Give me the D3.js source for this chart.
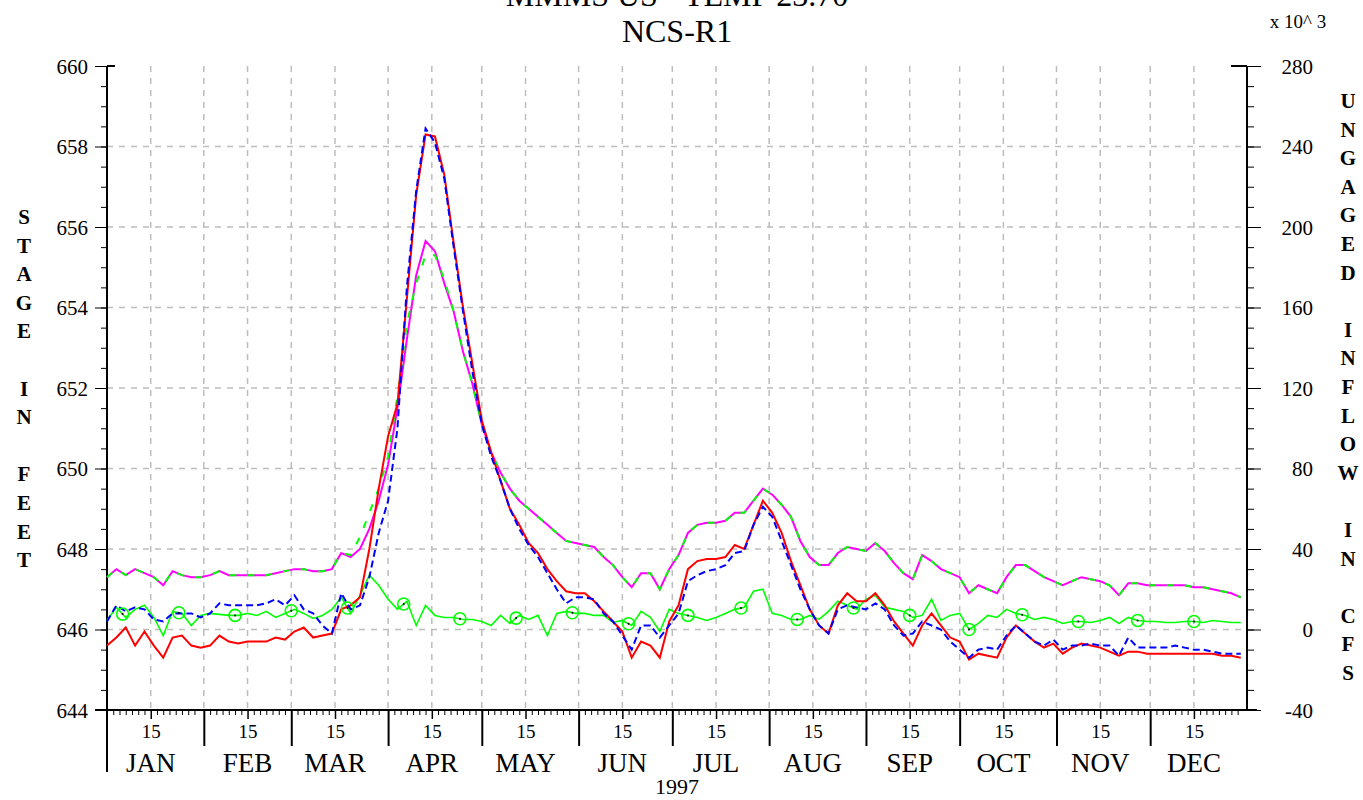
<!DOCTYPE html>
<html>
  <head>
    <meta charset="utf-8">
    <script src="https://d3js.org/d3.v7.min.js"></script>
    <style>
      body { margin: 0; background: #fff; }
      svg text { font-family: "Liberation Serif", "DejaVu Serif", serif; fill: #000; }
    </style>
  </head>
  <body>
    <div id="chart"></div>

    <script>
      // day-of-year sample points (every 3 days), 1997
      const days = d3.range(0, 364, 3);

      // stage in feet, red solid
      const redStage = [
        645.6, 645.8, 646.05, 645.6, 645.95, 645.6, 645.3, 645.8, 645.85, 645.6,
        645.55, 645.6, 645.85, 645.7, 645.65, 645.7, 645.7, 645.7, 645.8, 645.75,
        645.95, 646.05, 645.8, 645.85, 645.9, 646.5, 646.6, 646.8, 648.0, 649.5,
        650.8, 651.6, 654.2, 656.8, 658.3, 658.25, 657.3, 655.6, 654.0, 652.6,
        651.2, 650.4, 649.7, 649.0, 648.6, 648.15, 647.9, 647.5, 647.2, 646.95,
        646.9, 646.9, 646.7, 646.45, 646.2, 645.95, 645.3, 645.7, 645.6, 645.3,
        646.2, 646.6, 647.5, 647.7, 647.75, 647.75, 647.8, 648.1, 648.0, 648.6,
        649.2, 648.9, 648.4, 647.7, 647.1, 646.5, 646.1, 645.9, 646.6, 646.9,
        646.7, 646.7, 646.9, 646.6, 646.2, 645.9, 645.6, 646.1, 646.4, 646.1,
        645.8, 645.7, 645.25, 645.4, 645.35, 645.3, 645.8, 646.1, 645.9, 645.7,
        645.55, 645.65, 645.4, 645.55, 645.65, 645.6, 645.55, 645.45, 645.35, 645.45,
        645.45, 645.4, 645.4, 645.4, 645.4, 645.4, 645.4, 645.4, 645.4, 645.35,
        645.35, 645.3
      ];

      // stage in feet, blue dashed
      const blueStage = [
        646.2, 646.6, 646.45, 646.55, 646.5, 646.25, 646.2, 646.4, 646.4, 646.4,
        646.3, 646.4, 646.65, 646.6, 646.6, 646.6, 646.6, 646.65, 646.75, 646.6,
        646.85, 646.5, 646.4, 646.1, 645.9, 646.9, 646.5, 646.6, 647.3, 648.4,
        649.2, 651.0, 654.5, 656.9, 658.45, 658.1, 657.2, 655.5, 653.9, 652.4,
        651.1, 650.3, 649.7, 649.0, 648.5, 648.1, 647.8, 647.4, 647.0, 646.65,
        646.8, 646.8, 646.75, 646.4, 646.2, 645.85, 645.5, 646.1, 646.1, 645.8,
        646.1, 646.4, 647.2, 647.35, 647.45, 647.5, 647.6, 647.9, 647.95, 648.6,
        649.05, 648.8, 648.2, 647.6, 647.0, 646.5, 646.1, 645.9, 646.5, 646.6,
        646.55, 646.5, 646.65, 646.5, 646.1, 645.85, 645.9, 646.2, 646.1, 646.0,
        645.7, 645.5, 645.3, 645.5, 645.55, 645.5, 645.85, 646.1, 645.9, 645.7,
        645.6, 645.75, 645.5, 645.6, 645.6, 645.65, 645.6, 645.6, 645.35, 645.8,
        645.55, 645.55, 645.55, 645.55, 645.6, 645.55, 645.5, 645.5, 645.45, 645.4,
        645.4, 645.4
      ];

      // stage in feet, magenta solid (upper)
      const magentaStage = [
        647.3, 647.5, 647.35, 647.5, 647.4, 647.3, 647.1, 647.45, 647.35, 647.3,
        647.3, 647.35, 647.45, 647.35, 647.35, 647.35, 647.35, 647.35, 647.4, 647.45,
        647.5, 647.5, 647.45, 647.45, 647.5, 647.9, 647.8, 648.0, 648.5, 649.2,
        650.1, 651.5, 653.2, 654.8, 655.65, 655.4, 654.6, 653.9, 652.9, 652.1,
        651.1, 650.4, 649.9, 649.5, 649.2, 649.0, 648.8, 648.6, 648.4, 648.2,
        648.15, 648.1, 648.05, 647.8, 647.6, 647.3, 647.05, 647.4, 647.4, 647.0,
        647.5, 647.85, 648.4, 648.6, 648.65, 648.65, 648.7, 648.9, 648.9, 649.2,
        649.5, 649.35, 649.1, 648.8, 648.2, 647.8, 647.6, 647.6, 647.9, 648.05,
        648.0, 647.95, 648.15, 647.95, 647.65, 647.4, 647.25, 647.85, 647.7, 647.5,
        647.4, 647.3, 646.9, 647.1, 647.0, 646.9, 647.3, 647.6, 647.6, 647.45,
        647.3, 647.2, 647.1, 647.2, 647.3, 647.25, 647.2, 647.1, 646.85, 647.15,
        647.15, 647.1, 647.1, 647.1, 647.1, 647.1, 647.05, 647.05, 647.0, 646.95,
        646.9, 646.8
      ];

      // stage in feet, green dashed (upper, overlays magenta)
      const greenStage = [
        647.3, 647.5, 647.35, 647.5, 647.4, 647.3, 647.1, 647.45, 647.35, 647.3,
        647.3, 647.35, 647.45, 647.35, 647.35, 647.35, 647.35, 647.35, 647.4, 647.45,
        647.5, 647.5, 647.45, 647.45, 647.5, 647.9, 647.85, 648.3, 648.9, 649.5,
        650.3, 651.8, 653.6, 654.6, 655.3, 655.3, 654.7, 653.9, 652.9, 652.1,
        651.1, 650.4, 649.9, 649.5, 649.2, 649.0, 648.8, 648.6, 648.4, 648.2,
        648.15, 648.1, 648.05, 647.8, 647.6, 647.3, 647.05, 647.4, 647.4, 647.0,
        647.5, 647.85, 648.4, 648.6, 648.65, 648.65, 648.7, 648.9, 648.9, 649.2,
        649.5, 649.35, 649.1, 648.8, 648.2, 647.8, 647.6, 647.6, 647.9, 648.05,
        648.0, 647.95, 648.15, 647.95, 647.65, 647.4, 647.25, 647.85, 647.7, 647.5,
        647.4, 647.3, 646.9, 647.1, 647.0, 646.9, 647.3, 647.6, 647.6, 647.45,
        647.3, 647.2, 647.1, 647.2, 647.3, 647.25, 647.2, 647.1, 646.85, 647.15,
        647.15, 647.1, 647.1, 647.1, 647.1, 647.1, 647.05, 647.05, 647.0, 646.95,
        646.9, 646.8
      ];

      // ungaged inflow, thousand cfs (right axis)
      const inflow = [
        4.5, 11, 6, 10, 12, 6, -3, 9, 8, 2,
        7, 8, 7.5, 7, 7, 8, 7, 9, 6, 8,
        10, 8, 5.5, 7, 10, 16, 8, 17, 27, 22,
        15, 10, 14, 2, 12, 7, 6, 6, 5, 5,
        4, 2, 7, 3, 7, 5, 7, -3, 8, 9,
        8, 8, 7, 7, 3.5, 4.5, 2, 9, 6, -1,
        10, 8, 7, 6, 4.5, 6, 8, 10, 11, 19,
        20, 8, 7, 5, 5, 7, 5, 9, 14, 12,
        10, 15, 17, 11, 10, 9, 6, 7, 15, 4.5,
        7, 8, 0, 3, 7, 6, 10, 8, 7, 5,
        6, 5, 3, 4, 4, 3.5, 4.5, 6, 3, 6,
        4.5, 4, 4, 3.5, 3.5, 4, 4, 3.5, 4.5, 4,
        3.5, 3.5
      ];

      // days carrying a circle marker on the inflow line
      const markerDays = [5, 23, 41, 59, 77, 95, 113, 131, 149, 167, 186, 203, 221, 239, 257, 276, 293, 311, 330, 348];

      const monthNames = ["JAN", "FEB", "MAR", "APR", "MAY", "JUN", "JUL", "AUG", "SEP", "OCT", "NOV", "DEC"];
      const stageTicks = [644, 646, 648, 650, 652, 654, 656, 658, 660];
      const flowTicks = [-40, 0, 40, 80, 120, 160, 200, 240, 280];

      const width = 1363;
      const height = 800;
      const margin = { top: 66, right: 116, bottom: 90, left: 107 };
      const x0 = margin.left, x1 = width - margin.right;
      const y0 = height - margin.bottom, y1 = margin.top;

      const start = new Date(1997, 0, 1);
      const dayDate = d => d3.timeDay.offset(start, d);

      const x = d3.scaleTime().domain([start, new Date(1998, 0, 1)]).range([x0, x1]);
      const yL = d3.scaleLinear().domain([644, 660]).range([y0, y1]);
      const yR = d3.scaleLinear().domain([-40, 280]).range([y0, y1]);

      const svg = d3.select("#chart").append("svg")
        .attr("width", width).attr("height", height);

      // grid
      const grid = svg.append("g").attr("stroke", "#bdbdbd").attr("stroke-width", 1.5)
        .attr("stroke-dasharray", "6,6");
      const gridDates = [];
      for (let m = 0; m < 12; m++) {
        if (m > 0) gridDates.push(new Date(1997, m, 1));
        gridDates.push(new Date(1997, m, 15));
      }
      grid.selectAll(".vg").data(gridDates).enter().append("line")
        .attr("x1", d => x(d)).attr("x2", d => x(d))
        .attr("y1", y1).attr("y2", y0);
      grid.selectAll(".hg").data(stageTicks.filter(v => v > 644 && v < 660)).enter().append("line")
        .attr("x1", x0).attr("x2", x1)
        .attr("y1", d => yL(d)).attr("y2", d => yL(d));

      // left axis
      const leftMinor = d3.range(644, 660.01, 0.5);
      svg.append("g").attr("transform", `translate(${x0},0)`)
        .call(d3.axisLeft(yL).tickValues(leftMinor).tickSize(6).tickFormat("").tickSizeOuter(0))
        .call(g => g.select(".domain").remove());
      const leftAx = svg.append("g").attr("transform", `translate(${x0},0)`)
        .call(d3.axisLeft(yL).tickValues(stageTicks).tickSize(12).tickPadding(7).tickFormat(d => String(d)).tickSizeOuter(0));
      leftAx.select(".domain").remove();
      leftAx.selectAll("text").style("font-size", "21px").attr("dy", "0.34em");

      // right axis
      const rightMinor = d3.range(-40, 280.01, 10);
      svg.append("g").attr("transform", `translate(${x1},0)`)
        .call(d3.axisRight(yR).tickValues(rightMinor).tickSize(7).tickFormat("").tickSizeOuter(0))
        .call(g => g.select(".domain").remove());
      const rightAx = svg.append("g").attr("transform", `translate(${x1},0)`)
        .call(d3.axisRight(yR).tickValues(flowTicks).tickSize(14).tickFormat(d => String(d)).tickSizeOuter(0));
      rightAx.select(".domain").remove();
      rightAx.selectAll("text").style("font-size", "21px").attr("text-anchor", "end")
        .attr("x", 66).attr("dy", "0.34em");

      // frame lines
      const frame = svg.append("g").attr("stroke", "#000").attr("stroke-width", 2);
      frame.append("line").attr("x1", x0).attr("x2", x0).attr("y1", y1).attr("y2", 772);
      frame.append("line").attr("x1", x1).attr("x2", x1).attr("y1", y1).attr("y2", y0);
      frame.append("line").attr("x1", x0 - 12).attr("x2", x1 + 10).attr("y1", y0).attr("y2", y0);
      frame.append("line").attr("x1", x0).attr("x2", x0 + 8).attr("y1", y1).attr("y2", y1);
      frame.append("line").attr("x1", x1 - 16).attr("x2", x1).attr("y1", y1).attr("y2", y1);

      // bottom axis
      const minorDates = [], midDates = [], monthDates = [];
      for (let m = 0; m < 12; m++) {
        [3, 5, 7, 9, 11, 13, 17, 19, 21, 23, 25, 27, 29].forEach(dd => {
          const dt = new Date(1997, m, dd);
          if (dt.getMonth() === m) minorDates.push(dt);
        });
        midDates.push(new Date(1997, m, 15));
        if (m > 0) monthDates.push(new Date(1997, m, 1));
      }
      svg.append("g").attr("transform", `translate(0,${y0})`)
        .call(d3.axisBottom(x).tickValues(minorDates).tickSize(5).tickFormat("").tickSizeOuter(0))
        .call(g => g.select(".domain").remove());
      const midAx = svg.append("g").attr("transform", `translate(0,${y0})`)
        .call(d3.axisBottom(x).tickValues(midDates).tickSize(9).tickPadding(6).tickFormat(() => "15").tickSizeOuter(0));
      midAx.select(".domain").remove();
      midAx.selectAll("text").style("font-size", "19px");
      midAx.selectAll("line").attr("stroke-width", 1.5);
      const monAx = svg.append("g").attr("transform", `translate(0,${y0})`)
        .call(d3.axisBottom(x).tickValues(monthDates).tickSize(36).tickFormat("").tickSizeOuter(0));
      monAx.select(".domain").remove();
      monAx.selectAll("line").attr("stroke-width", 2);

      svg.append("g").selectAll("text").data(midDates).enter().append("text")
        .attr("x", d => x(d)).attr("y", 772)
        .attr("text-anchor", "middle").style("font-size", "27px")
        .text((d, i) => monthNames[i]);
      svg.append("text").attr("x", 677).attr("y", 794).attr("text-anchor", "middle")
        .style("font-size", "22px").text("1997");

      // titles
      svg.append("text").attr("x", 677).attr("y", 6).attr("text-anchor", "middle")
        .style("font-size", "32px").text("MMMS US - TEMP 23.70");
      svg.append("text").attr("x", 677).attr("y", 42).attr("text-anchor", "middle")
        .style("font-size", "32px").text("NCS-R1");
      svg.append("text").attr("x", 1298).attr("y", 28).attr("text-anchor", "middle")
        .style("font-size", "19px").text("x 10^ 3");

      "STAGE IN FEET".split("").forEach((c, i) => {
        if (c === " ") return;
        svg.append("text").attr("x", 24).attr("y", 224 + i * 28.6)
          .attr("text-anchor", "middle").style("font-size", "21px").style("font-weight", "bold").text(c);
      });
      "UNGAGED INFLOW IN CFS".split("").forEach((c, i) => {
        if (c === " ") return;
        svg.append("text").attr("x", 1348).attr("y", 108 + i * 28.6)
          .attr("text-anchor", "middle").style("font-size", "21px").style("font-weight", "bold").text(c);
      });

      // series
      const stageLine = arr => d3.line().x((d, i) => x(dayDate(days[i]))).y((d, i) => yL(arr[i]))(arr);
      const plot = svg.append("g").attr("fill", "none");

      plot.append("path").attr("d", stageLine(magentaStage))
        .attr("stroke", "#ff00ff").attr("stroke-width", 2);
      plot.append("path").attr("d", stageLine(greenStage))
        .attr("stroke", "#00ff00").attr("stroke-width", 2).attr("stroke-dasharray", "7,11");

      const flowLine = d3.line().x((d, i) => x(dayDate(days[i]))).y(d => yR(d));
      plot.append("path").attr("d", flowLine(inflow))
        .attr("stroke", "#00ff00").attr("stroke-width", 1.6);

      plot.append("path").attr("d", stageLine(redStage))
        .attr("stroke", "#ff0000").attr("stroke-width", 2);
      plot.append("path").attr("d", stageLine(blueStage))
        .attr("stroke", "#0000ff").attr("stroke-width", 2).attr("stroke-dasharray", "7,4");

      // markers on inflow
      function inflowAt(day) {
        const i = Math.min(d3.bisectRight(days, day) - 1, days.length - 2);
        const t = (day - days[i]) / (days[i + 1] - days[i]);
        return inflow[i] + t * (inflow[i + 1] - inflow[i]);
      }
      const mk = plot.selectAll(".mk").data(markerDays).enter().append("g")
        .attr("transform", d => `translate(${x(dayDate(d))},${yR(inflowAt(d))})`);
      mk.append("circle").attr("r", 6).attr("stroke", "#00ff00").attr("stroke-width", 1.6).attr("fill", "none");
      mk.append("circle").attr("r", 1).attr("fill", "#000");
    </script>
  </body>
</html>
